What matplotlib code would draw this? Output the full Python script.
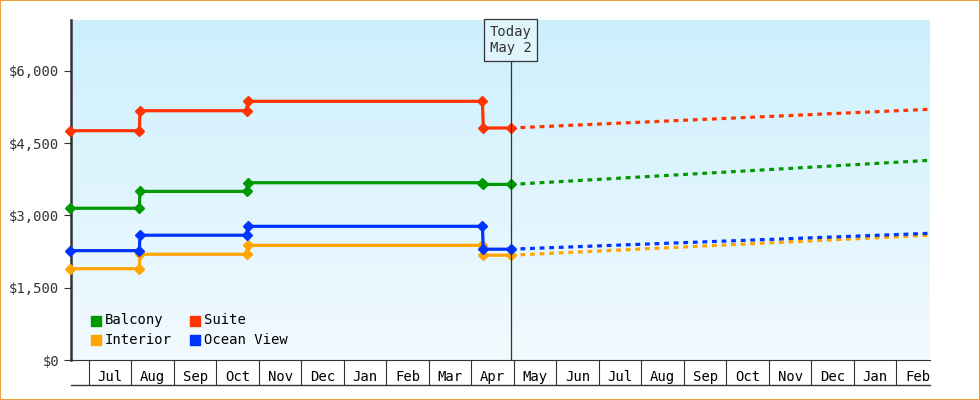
import numpy as np
import matplotlib.pyplot as plt
from matplotlib.ticker import FuncFormatter

# months: 0 = start of Jul (first year)
months = ["Jul", "Aug", "Sep", "Oct", "Nov", "Dec", "Jan", "Feb", "Mar", "Apr",
          "May", "Jun", "Jul", "Aug", "Sep", "Oct", "Nov", "Dec", "Jan", "Feb"]

hist_x = [-0.45, 1.19, 1.2, 3.71, 3.74, 9.26, 9.28, 9.93]
suite = [4760, 4760, 5175, 5175, 5370, 5370, 4816, 4816]
balcony = [3150, 3150, 3500, 3500, 3680, 3680, 3645, 3645]
ocean = [2270, 2270, 2590, 2590, 2775, 2775, 2300, 2300]
interior = [1895, 1895, 2195, 2195, 2380, 2380, 2175, 2175]

proj_x = [9.93, 19.79]
suite_proj = [4816, 5205]
balcony_proj = [3645, 4145]
ocean_proj = [2300, 2630]
interior_proj = [2175, 2590]

today = 9.93
xmin, xmax = -0.42, 19.79
ymax = 7058

fig = plt.figure(figsize=(9.8, 4), dpi=100)
ax = fig.add_axes([71 / 980, 40 / 400, 859 / 980, 340 / 400])
mono = "DejaVu Sans Mono"

grad = np.linspace(0, 1, 256).reshape(-1, 1)
top = np.array([0.80, 0.94, 0.99])
bot = np.array([0.95, 0.98, 1.0])
img = top + (bot - top) * grad[:, :, None]
ax.imshow(img, extent=[xmin, xmax, 0, ymax], aspect="auto", origin="upper", zorder=0)

series = [("Balcony", "#009900", balcony, balcony_proj),
          ("Suite", "#ff3300", suite, suite_proj),
          ("Interior", "#ffa500", interior, interior_proj),
          ("Ocean View", "#0033ff", ocean, ocean_proj)]
handles = []
for name, c, h, p in series:
    ax.plot(hist_x, h, color=c, lw=2.3, marker="D", ms=5, zorder=3, clip_on=False)
    ax.plot(proj_x, p, color=c, lw=2.3, ls=(0, (1.5, 1.5)), zorder=3)
    handles.append(ax.scatter([], [], marker="s", color=c, s=60, label=name))

ax.axvline(today, color="#333333", lw=0.9, zorder=4)
ax.text(today, ymax - 100, "Today\nMay 2", ha="center", va="top", fontsize=10,
        family=mono, color="#333333", zorder=5,
        bbox=dict(boxstyle="square,pad=0.4", fc="#e0f4fb", ec="#333333", lw=0.9))

ax.set_xlim(xmin, xmax)
ax.set_ylim(0, ymax)
ax.set_yticks([0, 1500, 3000, 4500, 6000])
ax.yaxis.set_major_formatter(FuncFormatter(lambda v, _: "${:,.0f}".format(v)))
ax.tick_params(axis="y", direction="out", length=5, labelsize=10, colors="#333333")
ax.set_xticks(np.arange(0, 20))
ax.set_xticklabels([])
ax.tick_params(axis="x", which="major", direction="out", length=18, color="#333333")
ax.set_xticks(np.arange(20) + 0.5, minor=True)
ax.set_xticklabels(months, minor=True)
ax.tick_params(axis="x", which="minor", length=0, pad=7, labelsize=10)
for lab in ax.get_xticklabels(minor=True) + ax.get_yticklabels():
    lab.set_family(mono)

for s in ["top", "right"]:
    ax.spines[s].set_visible(False)
ax.spines["left"].set_linewidth(1.8)
ax.spines["left"].set_color("#333333")
ax.spines["bottom"].set_color("#333333")
ax.plot([0, 1], [-25 / 340, -25 / 340], transform=ax.transAxes, color="#333333",
        lw=1, clip_on=False)

ax.legend(handles=[handles[0], handles[2], handles[1], handles[3]],
          labels=["Balcony", "Interior", "Suite", "Ocean View"], ncol=2,
          loc="lower left", bbox_to_anchor=(0.01, 0.01), frameon=False,
          prop={"family": mono, "size": 10}, handletextpad=0.1, columnspacing=1.2,
          labelspacing=0.4, handlelength=1.0, borderaxespad=0.3)

fig.patches.append(plt.Rectangle((0, 0), 1, 1, transform=fig.transFigure,
                                 fill=False, ec="#f0a040", lw=1.5))
fig.savefig("out.png", dpi=100)
